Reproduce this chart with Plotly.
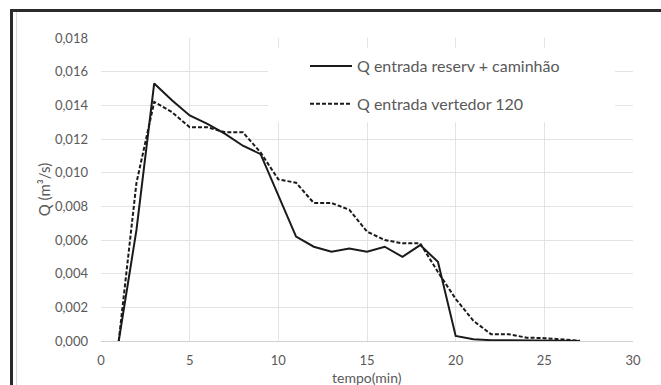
import plotly.graph_objects as go

tempo = list(range(1, 28))
q_reserv = [0.0, 0.0066, 0.0153, 0.0143, 0.0134, 0.0129, 0.0123, 0.0116, 0.0111,
            0.0086, 0.0062, 0.0056, 0.0053, 0.0055, 0.0053, 0.0056, 0.0050, 0.0057,
            0.0047, 0.0003, 0.0001, 0.00005, 0.00005, 0.00003, 0.00002, 0.00001, 0.0]
q_vert = [0.0, 0.0094, 0.0142, 0.0136, 0.0127, 0.0127, 0.0124, 0.0124, 0.0112,
          0.0096, 0.0094, 0.0082, 0.0082, 0.0078, 0.0065, 0.0060, 0.0058, 0.0058,
          0.0041, 0.0025, 0.0012, 0.0004, 0.0004, 0.0002, 0.00017, 0.00008, 0.00002]
name_reserv = "Q entrada reserv + caminhão"
name_vert = "Q entrada vertedor 120"
y_ticks = [0.000, 0.002, 0.004, 0.006, 0.008, 0.010, 0.012, 0.014, 0.016, 0.018]
x_ticks = [0, 5, 10, 15, 20, 25, 30]
x_title = "tempo(min)"
y_title = "Q (m³/s)"

FONT = "Lato"
TXT = "#595959"
GRID = "#e3e3e3"

fig = go.Figure()
fig.add_trace(go.Scatter(x=tempo, y=q_reserv, mode="lines", name=name_reserv,
                         legendgroup="a",
                         line=dict(color="#1a1a1a", width=2)))
fig.add_trace(go.Scatter(x=tempo, y=q_vert, mode="lines", name=name_vert,
                         legendgroup="b",
                         line=dict(color="#1a1a1a", width=2, dash="4px,2px")))

W, H = 661, 385
L, R, T, B = 101, 28, 38, 44
PW, PH = W - L - R, H - T - B


def px(xp):
    return (xp - L) / PW


def py(yp):
    return (H - B - yp) / PH


shapes = [
    # white legend background covering gridlines
    dict(type="rect", xref="paper", yref="paper", layer="above",
         x0=px(268), x1=px(615), y0=py(122), y1=py(48),
         fillcolor="white", line=dict(width=0)),
    # outer dark frame (left and top)
    dict(type="line", xref="paper", yref="paper",
         x0=px(11.5), x1=px(11.5), y0=py(10.5), y1=py(400),
         line=dict(color="#2b2b2b", width=3)),
    dict(type="line", xref="paper", yref="paper",
         x0=px(10), x1=px(670), y0=py(10.5), y1=py(10.5),
         line=dict(color="#2b2b2b", width=3)),
    # inner light frame line
    dict(type="line", xref="paper", yref="paper",
         x0=px(16.5), x1=px(16.5), y0=py(12), y1=py(400),
         line=dict(color="#d9d9d9", width=1)),
]

fig.update_layout(
    width=W, height=H,
    margin=dict(l=L, r=R, t=T, b=B, pad=0, autoexpand=False),
    paper_bgcolor="white", plot_bgcolor="white",
    separators=",.",
    font=dict(family=FONT, size=13, color=TXT),
    showlegend=True,
    legend=dict(x=px(305), y=py(49), xanchor="left", yanchor="top",
                bgcolor="rgba(0,0,0,0)", traceorder="grouped",
                tracegroupgap=14, itemwidth=42,
                font=dict(family=FONT, size=16, color=TXT)),
    shapes=shapes,
    annotations=[dict(text=x_title, xref="paper", yref="paper",
                      x=0.5, y=py(377), xanchor="center", yanchor="middle",
                      showarrow=False,
                      font=dict(family=FONT, size=14, color=TXT))],
    xaxis=dict(range=[0, 30], tickvals=x_ticks, showgrid=True, gridcolor=GRID,
               gridwidth=1, zeroline=False, showline=True, linecolor="#d0d0d0",
               ticks="", ticklabelstandoff=7, automargin=False,
               tickfont=dict(family=FONT, size=13, color=TXT)),
    yaxis=dict(range=[0, 0.018], tickvals=y_ticks, tickformat=".3f",
               showgrid=True, gridcolor=GRID, gridwidth=1, zeroline=False,
               showline=False, ticks="", ticklabelstandoff=12, automargin=False,
               title=dict(text=y_title, standoff=0,
                          font=dict(family=FONT, size=15, color=TXT)),
               tickfont=dict(family=FONT, size=13, color=TXT)),
)

fig.write_html("out.html")
